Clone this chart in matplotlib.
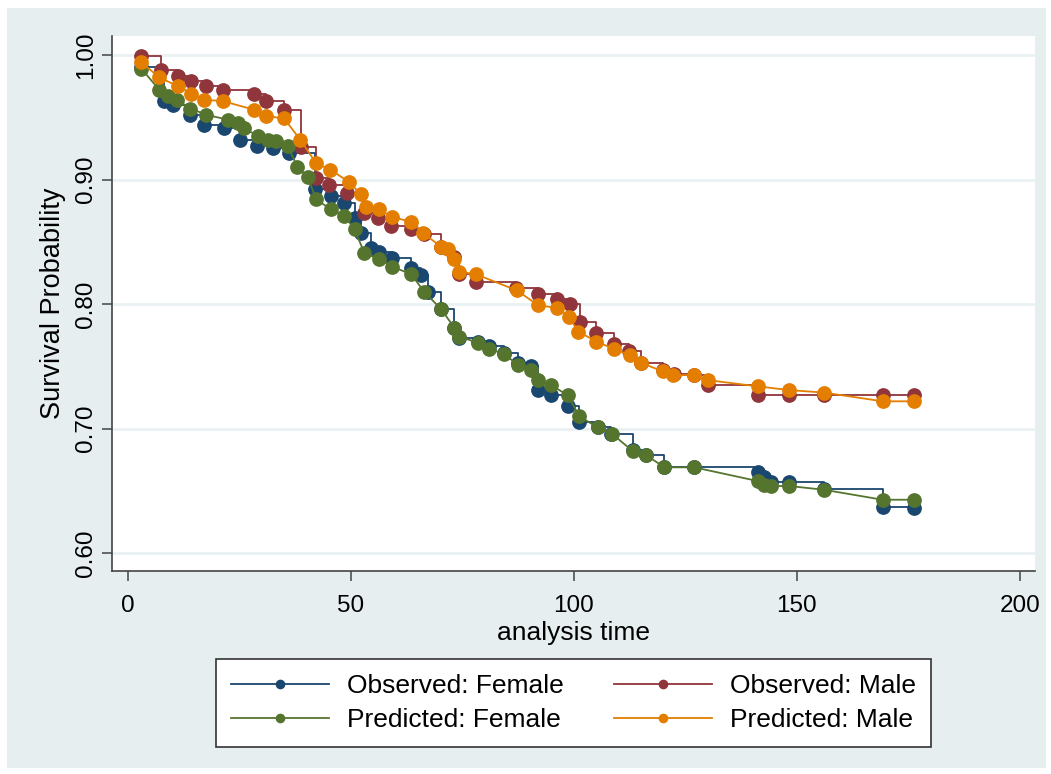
import matplotlib
matplotlib.use("Agg")
import matplotlib.pyplot as plt
from matplotlib.patches import Rectangle

plt.rcParams['font.family'] = ['Liberation Sans', 'DejaVu Sans']

# observed (Kaplan-Meier) survival, female
obs_f_t = [3, 8, 10, 14, 17, 21.5, 25, 29, 32.5, 36, 42, 45.5, 48.5, 50.8, 52.2, 54.5,
           56.3, 59.3, 63.5, 65.7, 67.2, 70.2, 73.2, 74.3, 78.4, 81, 84.4, 87.4, 90.4,
           91.9, 94.8, 98.6, 101.2, 105.3, 108.3, 113.2, 116.1, 120.3, 127, 141.2,
           142.7, 144.2, 148.3, 156.1, 169.2, 176.3]
obs_f_s = [0.990, 0.963, 0.960, 0.952, 0.944, 0.941, 0.932, 0.927, 0.925, 0.921, 0.892,
           0.887, 0.881, 0.869, 0.857, 0.845, 0.842, 0.837, 0.829, 0.823, 0.810, 0.796,
           0.781, 0.773, 0.770, 0.766, 0.761, 0.753, 0.750, 0.731, 0.727, 0.718, 0.705,
           0.701, 0.696, 0.683, 0.679, 0.669, 0.669, 0.665, 0.661, 0.657, 0.657, 0.652,
           0.637, 0.636]

# predicted survival, female
pred_f_t = [3, 7, 9, 11, 14, 17.5, 22.4, 24.6, 26.1, 29.1, 31.3, 33.2, 35.8, 38, 40.3,
            42.2, 45.5, 48.5, 50.8, 53, 56.3, 59.3, 63.5, 66.4, 70.2, 73.2, 74.3, 78.4,
            81, 84.4, 87.4, 90.4, 91.9, 94.8, 98.6, 101.2, 105.3, 108.5, 113.2, 116.1,
            120.3, 127, 141.2, 142.7, 144.2, 148.3, 156.1, 169.2, 176.3]
pred_f_s = [0.989, 0.972, 0.967, 0.964, 0.957, 0.952, 0.948, 0.945, 0.941, 0.935, 0.932,
            0.931, 0.927, 0.910, 0.902, 0.884, 0.876, 0.871, 0.860, 0.841, 0.836, 0.830,
            0.824, 0.810, 0.796, 0.781, 0.774, 0.769, 0.764, 0.760, 0.751, 0.747, 0.739,
            0.735, 0.727, 0.710, 0.701, 0.696, 0.682, 0.679, 0.669, 0.669, 0.658, 0.655,
            0.654, 0.654, 0.651, 0.643, 0.643]

# observed survival, male
obs_m_t = [3, 7.4, 11.1, 14.1, 17.5, 21.2, 28.3, 30.9, 35, 38.8, 42.2, 45.1, 49.2, 53,
           56, 59, 63.5, 66.4, 70.2, 73.2, 74.3, 78, 87, 92, 96.2, 99.2, 101.4, 105, 109,
           112.4, 115, 120, 122.5, 127, 130, 141.2, 148.3, 156.1, 169.2, 176.3]
obs_m_s = [0.999, 0.988, 0.983, 0.979, 0.975, 0.972, 0.969, 0.963, 0.956, 0.926, 0.901,
           0.896, 0.889, 0.873, 0.869, 0.863, 0.860, 0.856, 0.846, 0.838, 0.824, 0.818,
           0.813, 0.808, 0.804, 0.800, 0.786, 0.777, 0.768, 0.762, 0.753, 0.747, 0.744,
           0.743, 0.735, 0.727, 0.727, 0.727, 0.727, 0.727]

# predicted survival, male
pred_m_t = [3, 7, 11.1, 14.1, 17.1, 21.2, 28.3, 30.9, 35, 38.6, 42.2, 45.3, 49.6, 52.2,
            53.4, 56.2, 59.2, 63.5, 66.2, 70.2, 71.7, 73.2, 74.3, 78, 87.2, 92, 96.2,
            98.8, 101, 105, 109, 112.6, 115, 119.9, 122.3, 127, 130, 141.2, 148.3, 156.1,
            169.2, 176.3]
pred_m_s = [0.994, 0.982, 0.975, 0.969, 0.964, 0.963, 0.956, 0.951, 0.949, 0.932, 0.913,
            0.908, 0.898, 0.888, 0.878, 0.876, 0.870, 0.866, 0.857, 0.846, 0.844, 0.836,
            0.826, 0.824, 0.811, 0.799, 0.797, 0.790, 0.778, 0.770, 0.764, 0.759, 0.753,
            0.746, 0.743, 0.743, 0.739, 0.734, 0.731, 0.729, 0.722, 0.722]

y_ticks = [0.60, 0.70, 0.80, 0.90, 1.00]
x_ticks = [0, 50, 100, 150, 200]

navy = '#1a476f'
maroon = '#90353b'
green = '#55752f'
orange = '#e37e00'
bg = '#e6eef0'
grid = '#e9f1f3'

W, H = 1051, 774
fig = plt.figure(figsize=(W / 100, H / 100), dpi=100, facecolor='white')
fig.patches.append(Rectangle((7 / W, 6 / H), (1046 - 7) / W, (766 - 6) / H,
                             transform=fig.transFigure, facecolor=bg,
                             edgecolor='none', zorder=-10))

ax = fig.add_axes([112 / W, 1 - 571 / H, (1035 - 112) / W, (571 - 36) / H])
ax.set_facecolor('white')

ms = 9.6
lw = 1.3
ax.step(obs_f_t, obs_f_s, where='post', color=navy, lw=lw, marker='o', ms=ms,
        label='Observed: Female', zorder=3)
ax.step(obs_m_t, obs_m_s, where='post', color=maroon, lw=lw, marker='o', ms=ms,
        label='Observed: Male', zorder=3)
ax.plot(pred_f_t, pred_f_s, color=green, lw=lw, marker='o', ms=ms,
        label='Predicted: Female', zorder=4)
ax.plot(pred_m_t, pred_m_s, color=orange, lw=lw, marker='o', ms=ms,
        label='Predicted: Male', zorder=4)

ax.set_xlim(-3.6, 203.4)
ax.set_ylim(0.5858, 1.0152)
ax.set_xticks(x_ticks)
ax.set_yticks(y_ticks)
ax.set_yticklabels(['%.2f' % v for v in y_ticks], rotation=90, va='center')
ax.yaxis.grid(True, color=grid, lw=2)
ax.set_axisbelow(True)

for s in ['top', 'right']:
    ax.spines[s].set_visible(False)
for s in ['left', 'bottom']:
    ax.spines[s].set_color('#444444')
    ax.spines[s].set_linewidth(1.2)
ax.tick_params(labelsize=17.5, length=7, width=1.1, color='#444444')
ax.tick_params(axis='x', pad=10)
ax.tick_params(axis='y', pad=4)

ax.set_xlabel('analysis time', fontsize=19, labelpad=3)
ax.set_ylabel('Survival Probability', fontsize=19.5, labelpad=6)

h, l = ax.get_legend_handles_labels()
order = [0, 2, 1, 3]
leg = fig.legend([h[i] for i in order], [l[i] for i in order], ncol=2,
                 loc='center', bbox_to_anchor=(573.5 / W, 1 - 703 / H),
                 fontsize=19, frameon=True, fancybox=False, framealpha=1,
                 markerscale=0.62, handlelength=3.7, handletextpad=0.7,
                 columnspacing=1.9, labelspacing=0.38, borderpad=0.55)
leg.get_frame().set_edgecolor('#333333')
leg.get_frame().set_linewidth(1.2)

fig.savefig('out.png', dpi=100, facecolor=fig.get_facecolor())
